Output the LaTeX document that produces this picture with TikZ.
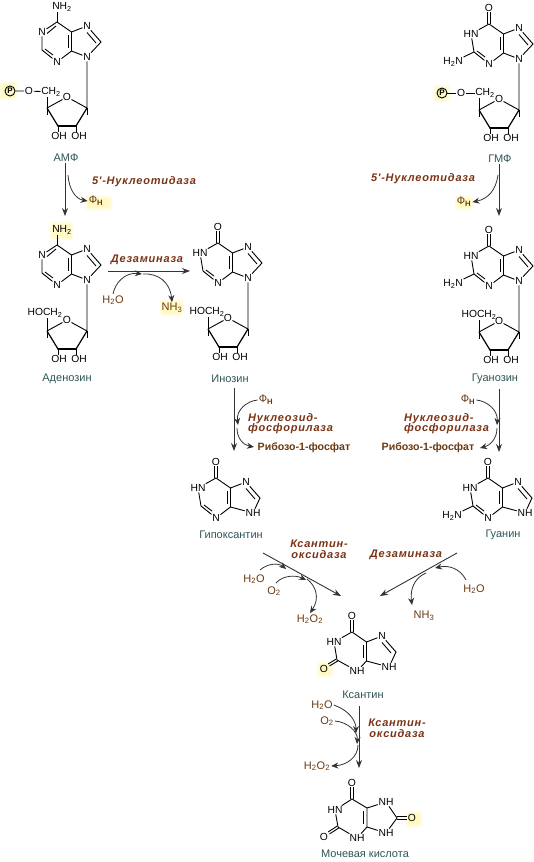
\documentclass[tikz,border=0pt]{standalone}
\usepackage{fontspec}
\setmainfont{Liberation Sans}
\newfontfamily\enzf[LetterSpace=7.0]{Liberation Sans}
\usetikzlibrary{arrows.meta}
\definecolor{tealname}{HTML}{2F5555}
\definecolor{brownlab}{HTML}{6B3A12}
\definecolor{brownenz}{HTML}{7A3315}
\definecolor{hlyellow}{HTML}{FFFAC4}
\definecolor{arrowgray}{HTML}{333333}
\newcommand\sbs[1]{\textsubscript{#1}}
\tikzset{
 atom/.style={font=\fontsize{10.3}{10}\selectfont,inner sep=0.6pt,text=black},
 hn/.style={xshift=-3},
 nhr/.style={xshift=7},
 nhb/.style={xshift=5,yshift=1},
 bond/.style={line width=0.9pt,black},
 fatbond/.style={line width=1.8pt,black},
 pcirc/.style={circle,draw=black,line width=0.9pt,inner sep=0pt,minimum size=10pt,font=\fontsize{8}{8}\selectfont\bfseries},
 metab/.style={font=\fontsize{11}{11}\selectfont,text=tealname,inner sep=1pt},
 reag/.style={font=\fontsize{11}{11}\selectfont,text=brownlab,inner sep=1pt},
 sugarp/.style={font=\fontsize{10.6}{10}\selectfont\bfseries,text=brownlab,inner sep=1pt},
 enz/.style={font=\fontsize{11}{10.5}\selectfont\enzf\bfseries\itshape,text=brownenz,inner sep=0pt,align=center},
 mainarr/.style={line width=0.9pt,arrowgray,-{Stealth[length=8pt,width=6pt]}},
 sidearr/.style={line width=0.8pt,arrowgray,-{Stealth[length=7pt,width=6pt]}},
 hl/.style={fill=hlyellow,draw=hlyellow!55,line width=2.5pt,rounded corners=2pt},
}
% double bond from #1 to #2, offset by +/-(#3,#4) pt
\newcommand\dbl[4]{%
 \draw[bond] ([xshift=#3,yshift=#4]#1)--([xshift=#3,yshift=#4]#2);
 \draw[bond] ([xshift=-(#3),yshift=-(#4)]#1)--([xshift=-(#3),yshift=-(#4)]#2);}
% name, position of C6, N1, N3, N9 node parts, extra code
\newcommand\purine[6]{%
\begin{scope}[shift={(#2)}]
 \def\mn{#1}
 \coordinate (#1-c6) at (0,0);
 \node[atom] (#1-n1) at (-15,10) #3;
 \coordinate (#1-c2) at (-15,28);
 \node[atom] (#1-n3) at (0,40) #4;
 \coordinate (#1-c4) at (14.5,29);
 \coordinate (#1-c5) at (14.5,10);
 \node[atom] (#1-n7) at (30,4) {N};
 \coordinate (#1-c8) at (44,20);
 \node[atom] (#1-n9) at (30,35) #5;
 \draw[bond] (#1-c6)--(#1-n1)--(#1-c2)--(#1-n3)--(#1-c4)--(#1-c5)--(#1-c6);
 \draw[bond] (#1-c5)--(#1-n7)--(#1-c8)--(#1-n9)--(#1-c4);
 \draw[bond] (11,13)--(11,26);
 \draw[bond] (30,10.5)--(39,21);
 #6
\end{scope}}
\newcommand\oxosix{\node[atom] (\mn-o6) at (0,-16) {O}; \dbl{\mn-c6}{\mn-o6.south}{1.2}{0}}
\newcommand\oxotwo{\node[atom] (\mn-o2) at (-28,37) {O}; \dbl{\mn-c2}{\mn-o2.40}{-0.7}{1}}
\newcommand\dblsix{\draw[bond] (-10,11.5)--(-1,4);}
\newcommand\dbltwo{\draw[bond] (-12,27)--(-4,33);}
\newcommand\aminosix{\node[atom] (\mn-nh) at (5,-15) {NH\sbs{2}}; \draw[bond] (\mn-c6)--(\mn-nh.south -| \mn-c6);}
\newcommand\aminotwo{\node[atom] (\mn-nh) at (-36,38) {H\sbs{2}N}; \draw[bond] (\mn-c2)--(\mn-nh);}
% name, position of N9, CH2 label node part, extra code
\newcommand\ribose[4]{%
\begin{scope}[shift={(#2)}]
 \node[atom,inner sep=0.3pt] (#1-ro) at (-20,40) {O};
 \coordinate (#1-r1) at (0,51);
 \coordinate (#1-r2) at (-11,69);
 \coordinate (#1-r3) at (-29,69);
 \coordinate (#1-r4) at (-40,51);
 \coordinate (#1-t1) at (0,58);
 \coordinate (#1-t4) at (-40,58);
 \node[atom] (#1-oh3) at (-28,79) {OH};
 \node[atom] (#1-oh2) at (-8,79) {OH};
 \node[atom] (#1-ch) at #3;
 \draw[bond] (#1-n9)--(#1-r1)--(#1-ro)--(#1-r4);
 \draw[bond] (#1-r4)--(#1-ch.south -| #1-r4);
 \draw[bond] (#1-r1)--(#1-t1) (#1-r4)--(#1-t4);
 \draw[bond] (#1-r3)--(#1-oh3.north -| #1-r3) (#1-r2)--(#1-oh2.north -| #1-r2);
 \draw[line width=1.2pt,black] (#1-r4)--(#1-r3) (#1-r1)--(#1-r2);
 \draw[fatbond,line cap=round] (#1-r3)--(#1-r2);
 #4
\end{scope}}
\begin{document}
\begin{tikzpicture}[x=1pt,y=-1pt]
\fill[white] (0,0) rectangle (533,862);
\useasboundingbox (0,0) rectangle (533,862);
% highlights
\filldraw[hl] (0,83) rectangle (16,99);
\filldraw[hl] (434,86) rectangle (449,100);
\filldraw[hl] (86,197) rectangle (111,209);
\filldraw[hl] (456,197) rectangle (472,209);
\filldraw[hl] (51,223) rectangle (72,239);
\filldraw[hl] (161,301) rectangle (182,315);
\filldraw[hl] (318,663) rectangle (332,676);
\filldraw[hl] (407,812) rectangle (421,826);
% molecules
\purine{amp}{57,22}{{N}}{{N}}{{N}}{\aminosix\dblsix\dbltwo}
\ribose{amp}{87,57}{(-36,35) {CH\sbs{2}}}{%
 \node[pcirc] (amp-p) at (-77,34) {P};
 \node[atom] (amp-po) at (-58,34) {O};
 \draw[bond] (amp-p)--(amp-po)--(amp-ch);}
\purine{ado}{57,245}{{N}}{{N}}{{N}}{\aminosix\dblsix\dbltwo}
\ribose{ado}{87,280}{(-42,33) {HOCH\sbs{2}}}{}
\purine{ino}{218,243}{[hn]{HN}}{{N}}{{N}}{\oxosix\dbltwo}
\ribose{ino}{248,278}{(-41,34) {HOCH\sbs{2}}}{}
\purine{gmp}{489,24}{[hn]{HN}}{{N}}{{N}}{\oxosix\dbltwo\aminotwo}
\ribose{gmp}{519,59}{(-34,34) {CH\sbs{2}}}{%
 \node[pcirc] (gmp-p) at (-77,34) {P};
 \node[atom] (gmp-po) at (-58,34) {O};
 \draw[bond] (gmp-p)--(gmp-po)--(gmp-ch);}
\purine{guo}{489,246}{[hn]{HN}}{{N}}{{N}}{\oxosix\dbltwo\aminotwo}
\ribose{guo}{519,281}{(-40,34) {HOCH\sbs{2}}}{}
\purine{hyp}{216,478}{[hn]{HN}}{{N}}{[nhr]{NH}}{\oxosix\dbltwo}
\purine{gua}{488,478}{[hn]{HN}}{{N}}{[nhr]{NH}}{\oxosix\dbltwo\aminotwo}
\purine{xan}{352,632}{[hn]{HN}}{[nhb]{NH}}{[nhr]{NH}}{\oxosix\oxotwo}
% uric acid
\begin{scope}[shift={(352,799)}]
 \coordinate (uri-c6) at (0,0);
 \coordinate (uri-c5) at (15,9);
 \coordinate (uri-c4) at (15,28);
 \coordinate (uri-c2) at (-14,28);
 \coordinate (uri-c8) at (45,19);
 \node[atom] (uri-n1) at (-17,11) {HN};
 \node[atom] (uri-n3) at (5,39) {NH};
 \node[atom] (uri-n7) at (34,3) {NH};
 \node[atom] (uri-n9) at (34,34) {NH};
 \node[atom] (uri-o6) at (0,-16) {O};
 \node[atom] (uri-o2) at (-28,38) {O};
 \node[atom] (uri-o8) at (60,19) {O};
 \draw[bond] (uri-c6)--(uri-n1)--(uri-c2)--(uri-n3)--(uri-c4)--(uri-c5)--(uri-c6);
 \draw[bond] (uri-c5)--(uri-n7)--(uri-c8)--(uri-n9)--(uri-c4);
 \draw[bond] (11.5,12)--(11.5,25);
 \dbl{uri-c6}{uri-o6.south}{1.2}{0}
 \dbl{uri-c2}{uri-o2.40}{-0.7}{1}
 \dbl{uri-c8}{uri-o8.west}{0}{1.2}
\end{scope}
% metabolite names
\node[metab] (amf) at (66,158) {АМФ};
\node[metab] (gmf) at (500,159) {ГМФ};
\node[metab] (adn) at (67,379) {Аденозин};
\node[metab] (inn) at (230,379) {Инозин};
\node[metab] (gun) at (495,379) {Гуанозин};
\node[metab] (hpx) at (231,535) {Гипоксантин};
\node[metab] (gnn) at (503,535) {Гуанин};
\node[metab] (ksa) at (363,695) {Ксантин};
\node[metab] (mch) at (365,854) {Мочевая кислота};
% enzymes
\node[enz] (e1) at (144,182) {5'-Нуклеотидаза};
\node[enz] (e2) at (423,179) {5'-Нуклеотидаза};
\node[enz] (e3) at (147,260) {Дезаминаза};
\node[enz,align=left,anchor=west] (e4) at (248,423.5) {Нуклеозид-\\фосфорилаза};
\node[enz,align=left,anchor=west] (e5) at (404,423.5) {Нуклеозид-\\фосфорилаза};
\node[enz] (e6) at (319,549.5) {Ксантин-\\оксидаза};
\node[enz] (e7) at (406,555) {Дезаминаза};
\node[enz] (e8) at (397,728.5) {Ксантин-\\оксидаза};
% reagents
\node[reag] (f1) at (96,201) {Ф\sbs{\bfseries Н}};
\node[reag] (f2) at (464,202) {Ф\sbs{\bfseries Н}};
\node[reag] (f3) at (266,400) {Ф\sbs{\bfseries Н}};
\node[reag] (f4) at (468,400) {Ф\sbs{\bfseries Н}};
\node[reag] (w1) at (113,300) {H\sbs{2}O};
\node[reag] (am1) at (172,308) {NH\sbs{3}};
\node[sugarp] (rp1) at (304,448) {Рибозо-1-фосфат};
\node[sugarp] (rp2) at (428,448) {Рибозо-1-фосфат};
\node[reag] (w2) at (254,579) {H\sbs{2}O};
\node[reag] (ox1) at (274,591) {O\sbs{2}};
\node[reag] (pe1) at (310,619) {H\sbs{2}O\sbs{2}};
\node[reag] (am2) at (424,616) {NH\sbs{3}};
\node[reag] (w3) at (474,589) {H\sbs{2}O};
\node[reag] (w4) at (322,705) {H\sbs{2}O};
\node[reag] (ox2) at (327,721) {O\sbs{2}};
\node[reag] (pe2) at (317,766) {H\sbs{2}O\sbs{2}};
% arrow ends
\coordinate (t1) at (65,216);
\coordinate (t2) at (499,216);
\coordinate (t3s) at (108,271);
\coordinate (t3) at (190,271);
\coordinate (t4s) at (234,388);
\coordinate (t4) at (234,451);
\coordinate (t5s) at (499,389);
\coordinate (t5) at (499,452);
\coordinate (t6s) at (263,553);
\coordinate (t6) at (341,596);
\coordinate (t7s) at (457,553);
\coordinate (t7) at (380,596);
\coordinate (t8s) at (359,706);
\coordinate (t8) at (359,768);
% main arrows
\draw[mainarr] (amf.south -| t1)--(t1);
\draw[mainarr] (gmf.south -| t2)--(t2);
\draw[mainarr] (t3s)--(t3);
\draw[mainarr] (t4s)--(t4);
\draw[mainarr] (t5s)--(t5);
\draw[mainarr] (t6s)--(t6);
\draw[mainarr] (t7s)--(t7);
\draw[mainarr] (t8s)--(t8);
% side arrows
\coordinate (s1) at (68,175);
\draw[sidearr] (s1) .. controls (69,190) and (76,199) .. (f1.west);
\coordinate (s2) at (498,175);
\draw[sidearr] (s2) .. controls (496,190) and (488,199) .. (f2.east);
\coordinate (s3) at (142,274);
\draw[sidearr] (w1.north) .. controls (115,283) and (125,272) .. (s3);
\coordinate (s4) at (143,274);
\draw[sidearr] (s4) .. controls (158,273) and (170,282) .. (am1.north);
\coordinate (s5) at (238,425);
\draw[sidearr] (f3.west) .. controls (247,401) and (236,410) .. (s5);
\coordinate (s6) at (237,428);
\coordinate (s6e) at (254,447);
\draw[sidearr] (s6) .. controls (237,438) and (243,445) .. (s6e);
\coordinate (s7) at (497,425);
\draw[sidearr] (f4.east) .. controls (487,401) and (498,410) .. (s7);
\coordinate (s8) at (497,428);
\coordinate (s8e) at (480,448);
\draw[sidearr] (s8) .. controls (497,438) and (491,445) .. (s8e);
\coordinate (s9) at (286,569);
\coordinate (s9s) at (260,570);
\draw[sidearr] (s9s) .. controls (268,563) and (279,563) .. (s9);
\coordinate (s10) at (306,580);
\coordinate (s10s) at (276,583);
\draw[sidearr] (s10s) .. controls (283,575) and (296,575) .. (s10);
\coordinate (s11) at (307,579);
\draw[sidearr] (s11) .. controls (316,586) and (320,598) .. (pe1.north);
\coordinate (s12) at (426,573);
\coordinate (s12e) at (412,605);
\draw[sidearr] (s12) .. controls (414,578) and (410,590) .. (s12e);
\coordinate (s13) at (435,568);
\coordinate (s13s) at (466,580);
\draw[sidearr] (s13s) .. controls (460,568) and (448,565) .. (s13);
\coordinate (s14) at (356,733);
\draw[sidearr] (w4.east) .. controls (348,710) and (356,720) .. (s14);
\coordinate (s15) at (357,744);
\draw[sidearr] (ox2.east) .. controls (348,722) and (358,732) .. (s15);
\coordinate (s16) at (358,745);
\draw[sidearr] (s16) .. controls (358,757) and (347,765) .. (pe2.east);
\end{tikzpicture}
\end{document}
